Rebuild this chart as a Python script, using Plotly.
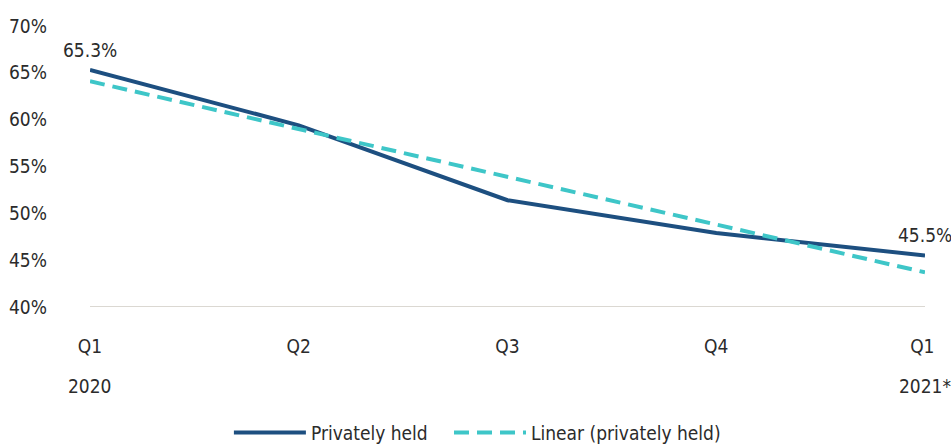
import plotly.graph_objects as go

quarters = ["Q1", "Q2", "Q3", "Q4", "Q1 "]
years = ["2020", "", "", "", "2021*"]
privately_held = [65.3, 59.4, 51.4, 47.9, 45.5]
linear_trend = [64.1, 59.0, 53.9, 48.8, 43.7]
y_ticks = [40, 45, 50, 55, 60, 65, 70]

FONT = "DejaVu Sans Condensed, Liberation Sans Narrow, sans-serif"
TEXT = "#2b2b2b"
NBSP = "\u00a0"
x_pos = list(range(len(quarters)))

fig = go.Figure()
fig.add_trace(go.Scatter(
    x=x_pos, y=privately_held, name="Privately held" + NBSP * 3,
    mode="lines", line=dict(color="#1d4f80", width=4), cliponaxis=False,
))
fig.add_trace(go.Scatter(
    x=x_pos, y=linear_trend, name="Linear (privately held)",
    mode="lines", line=dict(color="#3ec6c8", width=4, dash="15px,8px"),
    cliponaxis=False,
))

# value labels on the first and last points
for i in (0, len(privately_held) - 1):
    fig.add_annotation(x=x_pos[i], y=privately_held[i], xref="x", yref="y",
                       text=f"{privately_held[i]:.1f}%", showarrow=False,
                       yanchor="bottom", yshift=7,
                       font=dict(size=19, color=TEXT, family=FONT))

for i, yr in enumerate(years):
    if yr:
        fig.add_annotation(x=x_pos[i], y=0, xref="x", yref="paper",
                           text=yr, showarrow=False, yshift=-92,
                           font=dict(size=19, color=TEXT, family=FONT))

fig.update_layout(
    width=951, height=445,
    margin=dict(l=90, r=26, t=26, b=138, autoexpand=False),
    paper_bgcolor="white", plot_bgcolor="white",
    font=dict(family=FONT, size=19, color=TEXT),
    showlegend=True,
    legend=dict(orientation="h", xref="container", x=0.502, xanchor="center",
                yref="container", y=0.028, yanchor="middle",
                font=dict(size=19, color=TEXT, family=FONT), itemwidth=72,
                traceorder="normal"),
)
fig.update_xaxes(
    range=[0, len(quarters) - 1], tickvals=x_pos, ticktext=quarters,
    showgrid=False, zeroline=False, showline=False, ticks="",
    ticklabelstandoff=26,
)
fig.update_yaxes(
    range=[40, 70], tickvals=y_ticks, ticktext=[f"{t}%" for t in y_ticks],
    showgrid=False, zeroline=False, showline=False, ticks="",
    ticklabelstandoff=42,
)
fig.add_hline(y=40, line=dict(color="#cfcbc3", width=1.5), layer="below")

fig.write_html("out.html")
